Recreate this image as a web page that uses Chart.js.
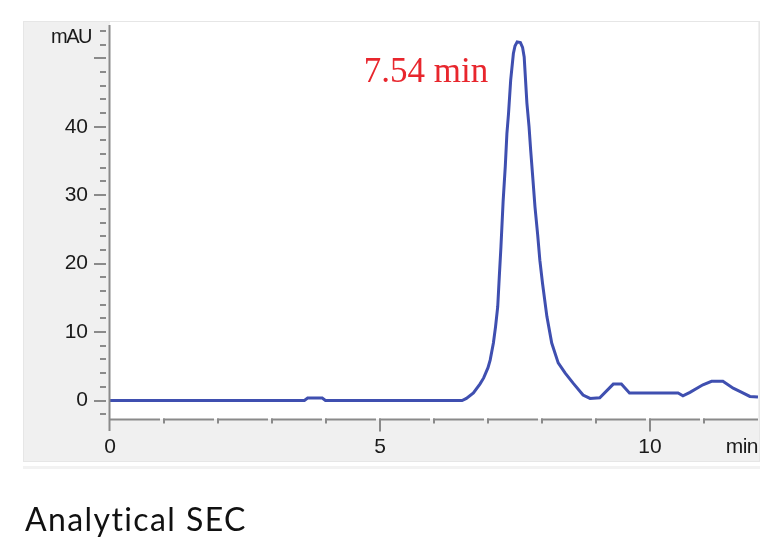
<!DOCTYPE html>
<html>
<head>
<meta charset="utf-8">
<script src="https://cdn.jsdelivr.net/npm/chart.js@4.4.1/dist/chart.umd.min.js"></script>
<style>
  html, body { margin: 0; padding: 0; background: #ffffff; }
  #wrap { position: relative; width: 775px; height: 540px; }
</style>
</head>
<body>
<div id="wrap"><canvas id="c" width="775" height="540"></canvas></div>
<script>
// ---- data ----
const times = [0, 3.60, 3.66, 3.93, 3.99, 6.52, 6.60, 6.73, 6.85, 6.92, 7.00, 7.04, 7.10, 7.14, 7.18, 7.21, 7.24, 7.28, 7.32, 7.35, 7.38, 7.42, 7.47, 7.50, 7.54, 7.60, 7.64, 7.67, 7.72, 7.76, 7.79, 7.83, 7.87, 7.92, 7.96, 8.01, 8.09, 8.18, 8.30, 8.43, 8.58, 8.76, 8.89, 9.07, 9.32, 9.47, 9.62, 10.52, 10.61, 10.74, 10.98, 11.14, 11.35, 11.54, 11.70, 11.85, 12.0];
const absorbance = [0, 0, 0.35, 0.35, 0, 0, 0.3, 1.1, 2.4, 3.3, 4.8, 5.9, 8.4, 10.8, 13.7, 18.2, 22.5, 29.1, 34.2, 39.0, 41.9, 46.8, 50.7, 51.8, 52.4, 52.3, 51.6, 50.2, 43.5, 40.0, 36.6, 32.5, 28.3, 24.2, 20.5, 17.1, 12.3, 8.4, 5.5, 4.0, 2.5, 0.8, 0.3, 0.4, 2.4, 2.4, 1.1, 1.1, 0.7, 1.2, 2.3, 2.8, 2.8, 1.8, 1.2, 0.6, 0.5];
const yTickValues = [-2, 0, 2, 4, 6, 8, 10, 12, 14, 16, 18, 20, 22, 24, 26, 28, 30, 32, 34, 36, 38, 40, 42, 44, 46, 48, 50, 52, 54];
const yLabelValues = [0, 10, 20, 30, 40];
const xTickValues = [0, 1, 2, 3, 4, 5, 6, 7, 8, 9, 10, 11];
const xLabelValues = [0, 5, 10];
const yUnit = 'mAU';
const xUnit = 'min';
const peakTime = 7.54;
const peakValue = 52.4;
const peakLabel = '7.54 min';
const caption = 'Analytical SEC';

const points = times.map((t, i) => ({ x: t, y: absorbance[i] }));
const AXIS = '#8a8a8a';
const LABEL_FONT = '21px "Liberation Sans", Arial, sans-serif';

const decor = {
  id: 'decor',
  beforeDraw(chart) {
    const { ctx, chartArea: a } = chart;
    ctx.save();
    // panel
    ctx.fillStyle = '#f0f0f0';
    ctx.fillRect(23, 21, a.right + 2 - 23, a.bottom + 43 - 21);
    ctx.strokeStyle = '#e6e6e6';
    ctx.lineWidth = 1;
    ctx.strokeRect(23.5, 21.5, a.right + 2 - 24, a.bottom + 43 - 22);
    ctx.fillStyle = '#ffffff';
    ctx.fillRect(a.left, 22, a.right - a.left, a.bottom - 22);
    ctx.fillStyle = '#f2f2f2';
    ctx.fillRect(23, a.bottom + 47, a.right + 2 - 23, 3);
    ctx.restore();
  },
  afterDraw(chart) {
    const { ctx, chartArea: a, scales } = chart;
    const xs = scales.x, ys = scales.y;
    ctx.save();
    ctx.strokeStyle = AXIS;
    ctx.lineWidth = 2;
    ctx.lineCap = 'butt';
    // y axis line
    const ax = a.left - 0.5;
    ctx.beginPath();
    ctx.moveTo(ax, 25);
    ctx.lineTo(ax, a.bottom + 12);
    ctx.stroke();
    // y ticks
    yTickValues.forEach(v => {
      const py = Math.round(ys.getPixelForValue(v));
      const len = (v % 10 === 0) ? 12 : 6;
      ctx.beginPath();
      ctx.moveTo(ax - 3.5 - len, py);
      ctx.lineTo(ax - 3.5, py);
      ctx.stroke();
    });
    // x axis line segments and ticks
    const by = a.bottom + 0.5;
    xTickValues.forEach((v, i) => {
      const px = xs.getPixelForValue(v);
      const next = (i + 1 < xTickValues.length) ? xs.getPixelForValue(xTickValues[i + 1]) - 4 : a.right;
      ctx.beginPath();
      ctx.moveTo(px - 1, by);
      ctx.lineTo(next, by);
      ctx.stroke();
      if (v !== 0) {
        const len = (v % 5 === 0) ? 12 : 4;
        ctx.beginPath();
        ctx.moveTo(px, by - 1);
        ctx.lineTo(px, by + len);
        ctx.stroke();
      }
    });
    // unit labels
    ctx.fillStyle = '#1a1a1a';
    ctx.font = '20px "Liberation Sans", Arial, sans-serif';
    ctx.textBaseline = 'middle';
    ctx.textAlign = 'right';
    if ('letterSpacing' in ctx) ctx.letterSpacing = '-1.5px';
    ctx.fillText(yUnit, 91, ys.getPixelForValue(53));
    if ('letterSpacing' in ctx) ctx.letterSpacing = '-0.5px';
    ctx.font = LABEL_FONT;
    ctx.textAlign = 'right';
    ctx.fillText(xUnit, a.right, a.bottom + 28);
    if ('letterSpacing' in ctx) ctx.letterSpacing = '0px';
    // peak annotation
    ctx.fillStyle = '#e8262d';
    ctx.font = '35px "Liberation Serif", "Times New Roman", serif';
    ctx.textAlign = 'right';
    ctx.textBaseline = 'alphabetic';
    ctx.fillText(peakLabel, xs.getPixelForValue(peakTime) - 29, ys.getPixelForValue(peakValue) + 40);
    // caption
    ctx.fillStyle = '#111111';
    ctx.font = '32px Lato, "Open Sans", sans-serif';
    if ('letterSpacing' in ctx) ctx.letterSpacing = '1.4px';
    ctx.textAlign = 'left';
    ctx.fillText(caption, 25, 531);
    ctx.restore();
  }
};

new Chart(document.getElementById('c'), {
  type: 'scatter',
  data: {
    datasets: [{
      data: points,
      showLine: true,
      borderColor: '#3f4fb0',
      borderWidth: 3,
      pointRadius: 0,
      tension: 0,
      fill: false
    }]
  },
  options: {
    responsive: false,
    animation: false,
    devicePixelRatio: 1,
    layout: { padding: { left: 0, right: 17, top: 22, bottom: 78 } },
    plugins: { legend: { display: false }, tooltip: { enabled: false } },
    scales: {
      x: {
        type: 'linear',
        min: 0,
        max: 12,
        afterFit: s => { s.height = 43; s.paddingLeft = 0; s.paddingRight = 0; },
        afterBuildTicks: s => { s.ticks = xTickValues.map(v => ({ value: v })); },
        grid: { display: false, drawTicks: false },
        border: { display: false },
        ticks: {
          autoSkip: false,
          maxRotation: 0,
          padding: 16,
          color: '#1a1a1a',
          font: { family: '"Liberation Sans", Arial, sans-serif', size: 21 },
          callback: v => xLabelValues.includes(v) ? String(v) : ''
        }
      },
      y: {
        type: 'linear',
        min: -2.7,
        max: 55.3,
        afterFit: s => { s.width = 110; s.paddingTop = 0; s.paddingBottom = 0; },
        afterBuildTicks: s => { s.ticks = yTickValues.map(v => ({ value: v })); },
        grid: { display: false, drawTicks: false },
        border: { display: false },
        ticks: {
          autoSkip: false,
          padding: 22,
          color: '#1a1a1a',
          font: { family: '"Liberation Sans", Arial, sans-serif', size: 21 },
          callback: v => yLabelValues.includes(v) ? String(v) : ''
        }
      }
    }
  },
  plugins: [decor]
});
</script>
</body>
</html>
